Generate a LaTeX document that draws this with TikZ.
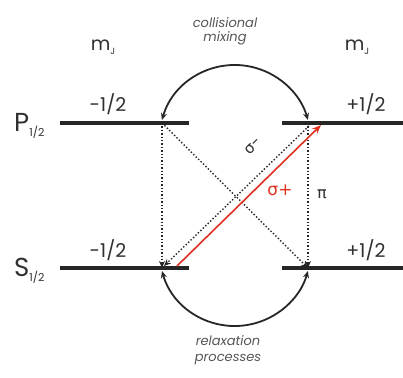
\documentclass[tikz,border=0pt]{standalone}
\usepackage{fontspec}
\setmainfont{Poppins}
\newfontfamily\grk{DejaVu Sans}
\usetikzlibrary{arrows.meta}
\definecolor{txt}{HTML}{303030}
\definecolor{itl}{HTML}{555555}
\definecolor{laser}{HTML}{E03020}
\begin{document}
\begin{tikzpicture}[x=1pt,y=-1pt,
  bar/.style={line width=4pt,black!85},
  lbl/.style={text=txt,font=\fontsize{19}{19}\selectfont,inner sep=0pt},
  lvl/.style={text=txt,font=\fontsize{26}{26}\selectfont,inner sep=0pt},
  note/.style={text=itl,font=\itshape\fontsize{13}{15}\selectfont,inner sep=0pt,align=center},
  arc/.style={line width=1.8pt,black!85,{Stealth[length=7pt,width=6pt]}-{Stealth[length=7pt,width=6pt]}},
  dot/.style={line width=1.4pt,dotted,black!85,-{Stealth[length=7pt,width=6pt]}},
  red/.style={line width=1.6pt,laser,-{Stealth[length=9pt,width=7pt]}}]
\useasboundingbox (0,0) rectangle (403,377);
% level endpoints
\coordinate (PLa) at (60,123); \coordinate (PLb) at (189,123);
\coordinate (PRa) at (282,123); \coordinate (PRb) at (403,123);
\coordinate (SLa) at (60,268); \coordinate (SLb) at (189,268);
\coordinate (SRa) at (282,268); \coordinate (SRb) at (403,268);
\coordinate (PL) at (162,123); \coordinate (PR) at (308,123);
\coordinate (SL) at (162,268); \coordinate (SR) at (308,268);
\coordinate (PLt) at (162,120); \coordinate (SLb2) at (162,271);
\coordinate (redS) at (177,266); \coordinate (redE) at (321,125);
\coordinate (smS) at (309,126); \coordinate (smE) at (164,266);
% bars
\draw[bar] (PLa) -- (PLb);
\draw[bar] (PRa) -- (PRb);
\draw[bar] (SLa) -- (SLb);
\draw[bar] (SRa) -- (SRb);
% labels
\node[lvl,anchor=base west] (P) at (14,131) {P\raisebox{-5pt}{\fontsize{11}{11}\selectfont 1/2}};
\node[lvl,anchor=base west] (S) at (14,276) {S\raisebox{-5pt}{\fontsize{11}{11}\selectfont 1/2}};
\node[lbl] (mL) at (103,47) {m\raisebox{-4pt}{\fontsize{9}{9}\selectfont J}};
\node[lbl] (mR) at (357,47) {m\raisebox{-4pt}{\fontsize{9}{9}\selectfont J}};
\node[lbl] (pm) at (108,104) {-1/2};
\node[lbl] (pp) at (366,104) {+1/2};
\node[lbl] (sm) at (108,250) {-1/2};
\node[lbl] (sp) at (366,250) {+1/2};
\node[note] (cm) at (225,31) {collisional\\[-1pt]mixing};
\node[note] (rp) at (228,350) {relaxation\\[1pt]processes};
% arcs
\draw[arc] (PLt) arc[start angle=196, end angle=344, radius=75.9];
\draw[arc] (SLb2) arc[start angle=164, end angle=16, radius=75.9];
% transitions
\draw[dot] (PL) -- (SL);
\draw[dot] (PR) -- (SR);
\draw[dot] (PL) -- (SR);
\draw[dot] (smS) -- (smE);
\draw[red] (redS) -- (redE);
\node[lbl,rotate=44,font=\fontsize{15}{15}\selectfont] (sgm) at (253,146) {{\grk σ}-};
\node[lbl,text=laser,font=\grk\fontsize{17}{17}\selectfont] (sgp) at (280,190) {σ+};
\node[lbl,font=\grk\fontsize{16}{16}\selectfont] (pi) at (322,194) {π};
\end{tikzpicture}
\end{document}
